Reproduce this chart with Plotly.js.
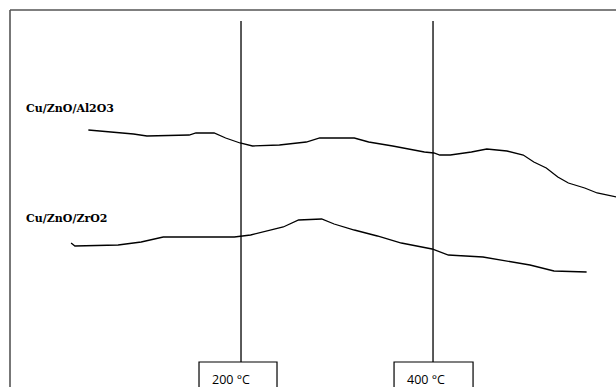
<!DOCTYPE html>
<html>
<head>
<meta charset="utf-8">
<script src="https://cdn.plot.ly/plotly-3.0.1.min.js"></script>
<style>html,body{margin:0;padding:0;background:#fff;}#chart{width:616px;height:387px;}</style>
</head>
<body>
<div id="chart"></div>
<script>
// Temperature (°C) and signal (a.u.)
const alTemp = [41, 68, 88, 102, 146, 153, 172, 184, 199, 212, 240, 268, 282, 318, 333, 358, 391, 401, 407, 418, 440, 456, 477, 494, 505, 518, 530, 541, 558, 571, 591];
const alSignal = [257, 255, 253, 251, 252, 254, 254, 249, 244, 241, 242, 245, 249, 249, 245, 241, 235, 234, 232, 232, 235, 238, 236, 232, 225, 219, 210, 204, 199, 194, 190];
const zrTemp = [23, 27, 72, 96, 119, 146, 193, 210, 227, 244, 260, 284, 297, 318, 342, 367, 399, 411, 416, 452, 481, 501, 526, 560];
const zrSignal = [144, 141, 142, 145, 150, 150, 150, 152, 156, 160, 167, 168, 163, 157, 151, 144, 138, 134, 132, 130, 125, 122, 116, 115];
const seriesNames = ["Cu/ZnO/Al2O3", "Cu/ZnO/ZrO2"];
const markerTemps = [200, 400];
const markerLabels = ["200 °C", "400 °C"];

const traces = [
  {x: alTemp, y: alSignal, mode: "lines", line: {color: "#000", width: 1.3}, name: seriesNames[0]},
  {x: zrTemp, y: zrSignal, mode: "lines", line: {color: "#000", width: 1.3}, name: seriesNames[1]}
];

const shapes = [
  {type: "line", xref: "paper", yref: "paper", x0: 10/616, x1: 1.01, y0: 1 - 10/387, y1: 1 - 10/387, line: {color: "#555", width: 1.6}},
  {type: "line", xref: "paper", yref: "paper", x0: 10/616, x1: 10/616, y0: 1 - 10/387, y1: -0.05, line: {color: "#555", width: 1.6}}
];
const annotations = [
  {x: -26, y: 279, xref: "x", yref: "y", text: "<b>" + seriesNames[0] + "</b>", showarrow: false, xanchor: "left", yanchor: "middle",
   font: {family: "DejaVu Serif", size: 11, color: "#000"}},
  {x: -26, y: 169, xref: "x", yref: "y", text: "<b>" + seriesNames[1] + "</b>", showarrow: false, xanchor: "left", yanchor: "middle",
   font: {family: "DejaVu Serif", size: 11, color: "#000"}}
];
const boxLeft = [43.75, 40.6];
const boxRight = [37.5, 41.7];
markerTemps.forEach((t, i) => {
  shapes.push({type: "line", xref: "x", yref: "y", x0: t, x1: t, y0: 25, y1: 366, line: {color: "#000", width: 1.3}});
  shapes.push({type: "rect", xref: "x", yref: "y", x0: t - boxLeft[i], x1: t + boxRight[i], y0: -10, y1: 25, line: {color: "#000", width: 1.2}, fillcolor: "rgba(0,0,0,0)"});
  annotations.push({x: t - boxLeft[i] + 11.5, y: 8, xref: "x", yref: "y", text: markerLabels[i], showarrow: false, xanchor: "left", yanchor: "middle",
    font: {family: "Open Sans", size: 12.5, color: "#000"}});
});

const layout = {
  width: 616, height: 387,
  margin: {l: 0, r: 0, t: 0, b: 0},
  paper_bgcolor: "#fff", plot_bgcolor: "#fff",
  showlegend: false,
  xaxis: {range: [-51.04, 590.6], visible: false, fixedrange: true},
  yaxis: {range: [0, 387], visible: false, fixedrange: true},
  shapes: shapes,
  annotations: annotations
};
Plotly.newPlot("chart", traces, layout, {displayModeBar: false, staticPlot: true});
</script>
</body>
</html>
